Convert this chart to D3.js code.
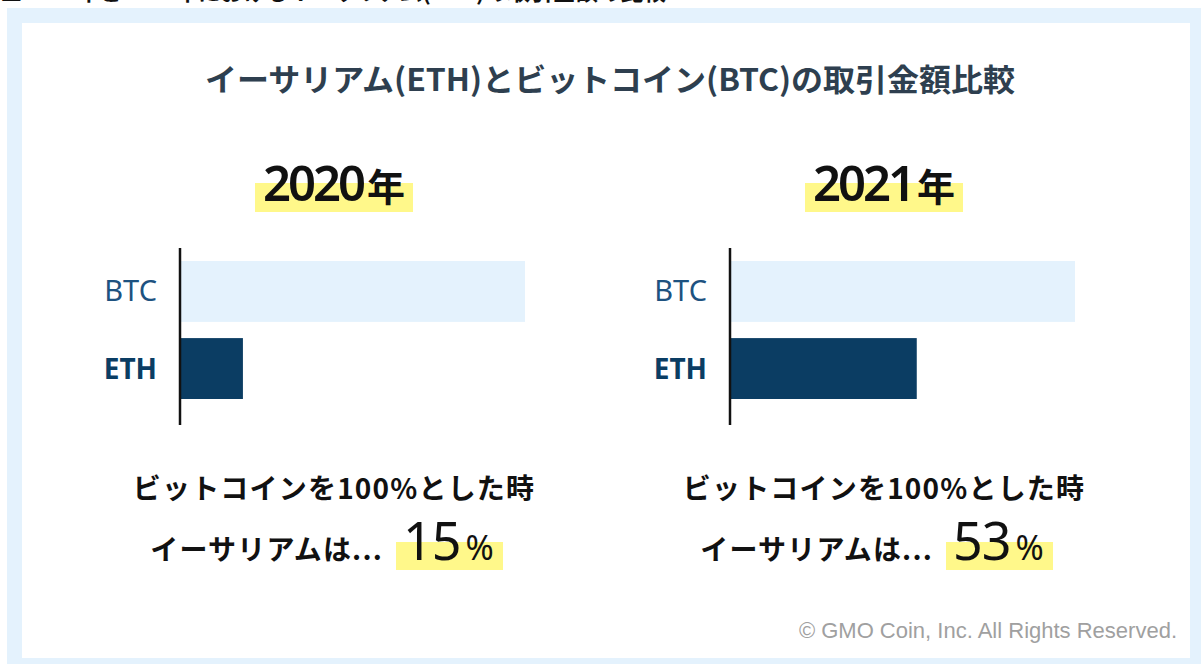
<!DOCTYPE html>
<html>
<head>
<meta charset="utf-8">
<script src="https://cdn.jsdelivr.net/npm/d3@7"></script>
<style>
  body { margin: 0; background: #fff; }
  svg { display: block; font-family: "Noto Sans CJK JP", "Noto Sans", sans-serif; }
</style>
</head>
<body>
<svg id="chart-svg" width="1201" height="664"></svg>
<script>
// data
const years = ['2020', '2021'];
const coins = ['BTC', 'ETH'];
const btcValues = [100, 100];
const ethValues = [18, 54];          // bar lengths as drawn (BTC = 100)
const ethShare = ['15', '53'];       // printed share of ETH vs BTC
const title = 'イーサリアム(ETH)とビットコイン(BTC)の取引金額比較';
const line1 = 'ビットコインを100%とした時';
const line2 = 'イーサリアムは...';
const copyright = '© GMO Coin, Inc. All Rights Reserved.';
const topCaption = '■2020年と2021年におけるイーサリアム(ETH)の取引金額の比較';

const navy = '#0b3d63';
const pale = '#e4f2fd';
const yellow = '#fff88a';
const latin = '"Noto Sans", sans-serif';

let svg, panels;

// small helper so .attrs({...}) works like d3-selection-multi
d3.selection.prototype.attrs = function(obj) {
  Object.entries(obj).forEach(([k, v]) => this.attr(k, v));
  return this;
};

function drawFrame() {
  // caption of the page above, mostly outside the picture
  svg.append('text')
    .attr('x', 0).attr('y', 0)
    .attr('font-size', 22).attr('font-weight', 700)
    .attr('fill', '#111')
    .attr('textLength', 666).attr('lengthAdjust', 'spacingAndGlyphs')
    .text(topCaption);

  svg.append('rect').attrs({ x: 7, y: 8, width: 1201 - 7, height: 664 - 8, fill: pale });
  svg.append('rect').attrs({ x: 22, y: 23, width: 1190 - 22, height: 658 - 23, fill: '#fff' });

  svg.append('text')
    .attr('x', 610).attr('y', 91)
    .attr('text-anchor', 'middle')
    .attr('font-size', 31).attr('font-weight', 700)
    .attr('fill', '#2e3f4f')
    .attr('textLength', 810).attr('lengthAdjust', 'spacingAndGlyphs')
    .text(title);

  svg.append('text')
    .attr('x', 1177).attr('y', 638)
    .attr('text-anchor', 'end')
    .style('font-family', '"Liberation Sans", Arial, sans-serif')
    .attr('font-size', 22)
    .attr('fill', '#a0a0a0')
    .text(copyright);
}

function drawPanels() {
  const x = d3.scaleLinear().domain([0, 100]).range([0, 344]);
  const y = d3.scaleBand().domain(coins).range([261, 399]).paddingInner(0.21);

  panels = svg.selectAll('g.panel')
    .data(years)
    .join('g')
    .attr('class', 'panel')
    .attr('transform', (d, i) => `translate(${180 + i * 550},0)`);

  // year label with marker highlight
  panels.append('rect').attrs({ x: 75, y: 183, width: 158, height: 29, fill: yellow });
  const yr = panels.append('text')
    .attr('x', 154).attr('y', 201)
    .attr('text-anchor', 'middle')
    .attr('fill', '#111');
  yr.append('tspan')
    .style('font-family', latin)
    .attr('font-size', 49).attr('font-weight', 600)
    .attr('letter-spacing', -3)
    .text(d => d);
  yr.append('tspan')
    .attr('dx', 4)
    .attr('font-size', 38).attr('font-weight', 700)
    .text('年');

  // bars
  panels.append('rect')
    .attr('x', 1).attr('y', y('BTC'))
    .attr('width', (d, i) => x(btcValues[i]))
    .attr('height', y.bandwidth())
    .attr('fill', pale);
  panels.append('rect')
    .attr('x', 1).attr('y', y('ETH'))
    .attr('width', (d, i) => x(ethValues[i]))
    .attr('height', y.bandwidth())
    .attr('fill', navy);

  panels.append('line').attrs({ x1: 0, x2: 0, y1: 248, y2: 425, stroke: '#111', 'stroke-width': 2.5 });

  // category labels
  panels.append('text')
    .attr('x', -23).attr('y', y('BTC') + y.bandwidth() / 2 + 10)
    .attr('text-anchor', 'end')
    .style('font-family', latin)
    .attr('font-size', 29)
    .attr('fill', '#1d5280')
    .text(coins[0]);
  panels.append('text')
    .attr('x', -23).attr('y', y('ETH') + y.bandwidth() / 2 + 10)
    .attr('text-anchor', 'end')
    .style('font-family', latin)
    .attr('font-size', 28).attr('font-weight', 700)
    .attr('fill', navy)
    .text(coins[1]);

  // bottom note
  panels.append('text')
    .attr('x', 154).attr('y', 499)
    .attr('text-anchor', 'middle')
    .attr('font-size', 28).attr('font-weight', 700)
    .attr('letter-spacing', 1.2)
    .attr('fill', '#111')
    .text(line1);
  panels.append('text')
    .attr('x', 203).attr('y', 560)
    .attr('text-anchor', 'end')
    .attr('font-size', 28).attr('font-weight', 700)
    .attr('letter-spacing', 1.2)
    .attr('fill', '#111')
    .text(line2);

  panels.append('rect').attrs({ x: 216, y: 542, width: 107, height: 28, fill: yellow });
  const pct = panels.append('text')
    .attr('x', 223).attr('y', 560)
    .attr('fill', '#111')
    .style('font-family', latin);
  pct.append('tspan')
    .attr('font-size', 52).attr('font-weight', 400)
    .attr('letter-spacing', -1)
    .text((d, i) => ethShare[i]);
  pct.append('tspan')
    .attr('dx', 5)
    .attr('font-size', 34).attr('font-weight', 400)
    .text('%');
}

function main() {
  svg = d3.select('#chart-svg');
  drawFrame();
  drawPanels();
}

main();
</script>
</body>
</html>
